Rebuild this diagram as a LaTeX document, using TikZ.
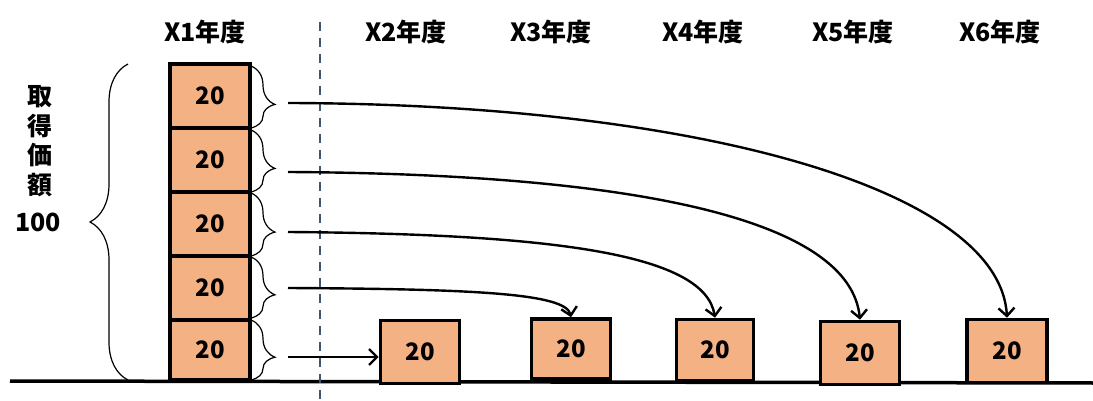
\documentclass[tikz,border=0pt]{standalone}
\usepackage{fontspec}
\newfontfamily\cjk{Noto Sans CJK JP}
\usetikzlibrary{arrows.meta,decorations.pathreplacing}
\definecolor{boxfill}{HTML}{F4B183}
\definecolor{dashc}{HTML}{44546A}
\begin{document}
\begin{tikzpicture}[x=1pt,y=-1pt,
  valbox/.style={draw=black,line width=3.6pt,fill=boxfill,inner sep=0pt,
    font=\cjk\bfseries\fontsize{24}{26}\selectfont},
  head/.style={font=\cjk\bfseries\fontsize{25}{28}\selectfont,inner sep=0pt},
  conn/.style={line width=2.4pt,-{Straight Barb[length=8pt,width=16pt,line width=2.4pt]}},
  smallbrace/.style={decorate,decoration={brace,amplitude=24pt,aspect=0.62},line width=1.2pt},
]
\useasboundingbox (0,0) rectangle (1093,401);
% ground
\draw[line width=3.5pt] (10,381) -- (1093,383);
% dashed divider
\draw[dashc,line width=2.5pt,dash pattern=on 9pt off 7pt] (320,22) -- (320,401);
% headings
\node[head] (h1) at (205,32) {X1年度};
\node[head] (h2) at (406,32) {X2年度};
\node[head] (h3) at (551,32) {X3年度};
\node[head] (h4) at (703,32) {X4年度};
\node[head] (h5) at (853,32) {X5年度};
\node[head] (h6) at (1000,32) {X6年度};
% left label
\node[font=\cjk\bfseries\fontsize{25}{29.5}\selectfont,align=center,inner sep=0pt] (lab) at (40,141) {取\\得\\価\\額};
\node[font=\cjk\bfseries\fontsize{25}{28}\selectfont,inner sep=0pt] (hund) at (38,222) {100};
% left stack
\node[valbox,minimum width=80pt,minimum height=64pt] (a1) at (210,96) {20};
\node[valbox,minimum width=80pt,minimum height=64pt] (a2) at (210,160) {20};
\node[valbox,minimum width=80pt,minimum height=64pt] (a3) at (210,224) {20};
\node[valbox,minimum width=80pt,minimum height=64pt] (a4) at (210,288) {20};
\node[valbox,minimum width=80pt,minimum height=60pt] (a5) at (210,350) {20};
% big brace
\draw[decorate,decoration={brace,amplitude=38pt,aspect=0.5},line width=1.2pt] (128,380) -- (128,64);
% small braces
\draw[smallbrace] (251,66) -- (251,128);
\draw[smallbrace] (251,130) -- (251,192);
\draw[smallbrace] (251,193) -- (251,256);
\draw[smallbrace] (251,257) -- (251,318);
\draw[smallbrace] (251,320) -- (251,380);
% bottom boxes
\node[valbox,minimum width=79pt,minimum height=63pt] (b2) at (420,352) {20};
\node[valbox,minimum width=79pt,minimum height=60pt] (b3) at (571,349) {20};
\node[valbox,minimum width=77pt,minimum height=61pt] (b4) at (715,350) {20};
\node[valbox,minimum width=79pt,minimum height=63pt] (b5) at (860,353) {20};
\node[valbox,minimum width=80pt,minimum height=63pt] (b6) at (1007,351) {20};
% start points
\coordinate (s1) at (288,103);
\coordinate (s2) at (288,172);
\coordinate (s3) at (288,232);
\coordinate (s4) at (288,288);
\coordinate (s5) at (288,357);
% arrows
\draw[conn] (s1) .. controls (700,104) and (1000,190) .. (b6.north);
\draw[conn] (s2) .. controls (640,174) and (850,220) .. (b5.north);
\draw[conn] (s3) .. controls (560,234) and (705,255) .. (b4.north);
\draw[conn] (s4) .. controls (470,289) and (566,293) .. (b3.north);
\draw[conn] (s5) -- (b2.west |- s5);
\end{tikzpicture}
\end{document}
